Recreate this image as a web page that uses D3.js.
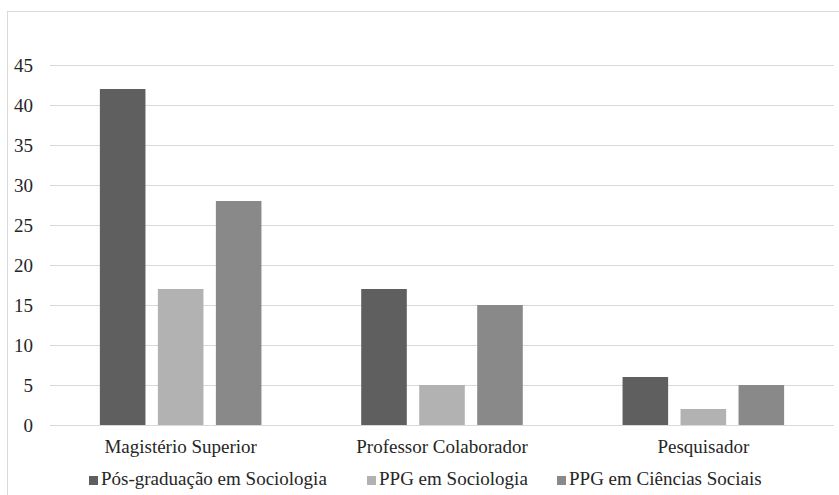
<!DOCTYPE html>
<html>
<head>
<meta charset="utf-8">
<script src="https://cdn.jsdelivr.net/npm/d3@7"></script>
<style>
  html, body { margin: 0; padding: 0; background: #ffffff; }
  svg { display: block; }
  svg text { font-family: "Liberation Serif", "Times New Roman", serif; }
</style>
</head>
<body>
<svg id="chart" width="839" height="495"></svg>
<script>
// Categories (x axis groups)
const categories = ["Magistério Superior", "Professor Colaborador", "Pesquisador"];
// Series names (legend)
const seriesNames = ["Pós-graduação em Sociologia", "PPG em Sociologia", "PPG em Ciências Sociais"];
// Values per series, one per category
const posGraduacaoSociologia = [42, 17, 6];
const ppgSociologia = [17, 5, 2];
const ppgCienciasSociais = [28, 15, 5];
// Y axis ticks
const yTicks = [0, 5, 10, 15, 20, 25, 30, 35, 40, 45];

const seriesValues = [posGraduacaoSociologia, ppgSociologia, ppgCienciasSociais];
const colors = ["#5f5f5f", "#b2b2b2", "#898989"];

const W = 839, H = 495;
const plot = { left: 50, right: 834, top: 65, bottom: 425 };
const FS = 19;

const svg = d3.select("#chart");

// Chart area border
svg.append("rect")
  .attr("x", 7.5).attr("y", 11.5)
  .attr("width", W + 10).attr("height", H + 10)
  .attr("fill", "none").attr("stroke", "#d9d9d9").attr("stroke-width", 1);

const y = d3.scaleLinear().domain([0, 45]).range([plot.bottom, plot.top]);

const x0 = d3.scaleBand().domain(categories).range([plot.left, plot.right]).padding(0);
const x1 = d3.scaleBand().domain(seriesNames).range([0, x0.bandwidth()])
  .paddingInner(0.214).paddingOuter(0.86);

// Horizontal gridlines
svg.append("g").selectAll("line").data(yTicks).join("line")
  .attr("x1", plot.left).attr("x2", plot.right)
  .attr("y1", d => Math.round(y(d)) + 0.5).attr("y2", d => Math.round(y(d)) + 0.5)
  .attr("stroke", "#d9d9d9").attr("stroke-width", 1);

// Y axis labels
svg.append("g").selectAll("text").data(yTicks).join("text")
  .attr("x", 33).attr("y", d => y(d))
  .attr("dy", "0.35em")
  .attr("text-anchor", "end")
  .attr("font-size", FS)
  .attr("fill", "#262626")
  .text(d => d);

// Bars
const groups = svg.append("g").selectAll("g").data(categories).join("g")
  .attr("transform", c => `translate(${x0(c)},0)`);

groups.selectAll("rect")
  .data((c, ci) => seriesNames.map((s, si) => ({ s, si, v: seriesValues[si][ci] })))
  .join("rect")
  .attr("x", d => x1(d.s))
  .attr("width", x1.bandwidth())
  .attr("y", d => y(d.v))
  .attr("height", d => y(0) - y(d.v))
  .attr("fill", d => colors[d.si]);

// Category labels
svg.append("g").selectAll("text").data(categories).join("text")
  .attr("x", c => x0(c) + x0.bandwidth() / 2)
  .attr("y", 453)
  .attr("text-anchor", "middle")
  .attr("font-size", FS)
  .attr("fill", "#262626")
  .text(c => c);

// Legend
const legendX = [89, 367, 557];
const legend = svg.append("g").selectAll("g").data(seriesNames).join("g")
  .attr("transform", (s, i) => `translate(${legendX[i]},0)`);
legend.append("rect")
  .attr("x", 0).attr("y", 476).attr("width", 9).attr("height", 9)
  .attr("fill", (s, i) => colors[i]);
legend.append("text")
  .attr("x", 12).attr("y", 485)
  .attr("font-size", FS)
  .attr("fill", "#262626")
  .text(s => s);
</script>
</body>
</html>
